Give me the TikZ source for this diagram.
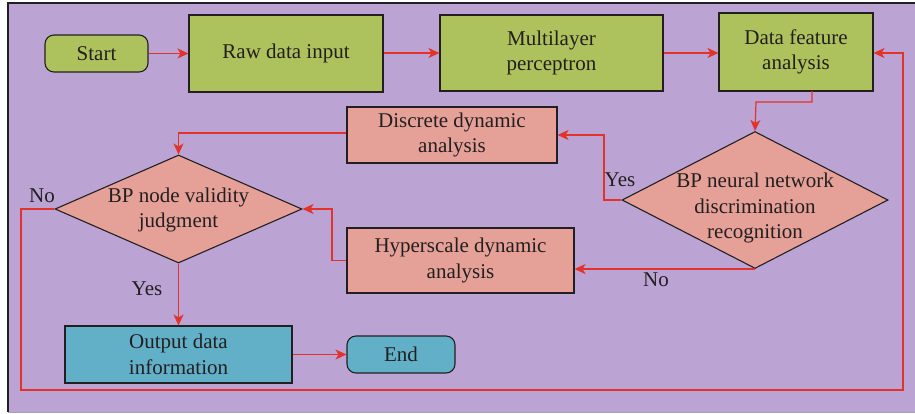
\documentclass[tikz,border=0pt]{standalone}
\usepackage{fontspec}
\setmainfont{Liberation Serif}
\usetikzlibrary{shapes.geometric,arrows.meta}
\definecolor{bgpurple}{HTML}{BBA4D3}
\definecolor{boxgreen}{HTML}{ADC25C}
\definecolor{boxpink}{HTML}{E5A198}
\definecolor{boxblue}{HTML}{62B0C8}
\definecolor{flowred}{HTML}{E2322A}
\definecolor{inkdark}{HTML}{231F20}
\newcommand{\chartfont}{\fontsize{21}{25.5}\selectfont}
\tikzset{
  base/.style={draw=inkdark, line width=1.1pt, text=inkdark, align=center,
    inner sep=0pt, font=\chartfont},
  greenbox/.style={base, rectangle, fill=boxgreen},
  pinkbox/.style={base, rectangle, fill=boxpink},
  bluebox/.style={base, rectangle, fill=boxblue},
  term/.style={base, rectangle, rounded corners=9pt},
  dia/.style={draw=inkdark, line width=1.1pt, fill=boxpink, diamond,
    inner sep=0pt, shape aspect=2},
  diatext/.style={text=inkdark, align=center, inner sep=0pt, font=\chartfont},
  flow/.style={draw=flowred, line width=1.2pt,
    -{Stealth[length=11pt,width=10pt,inset=3pt]}},
  lbl/.style={text=inkdark, inner sep=0pt, font=\chartfont}
}
\begin{document}
\begin{tikzpicture}[x=1pt,y=-1pt]
\useasboundingbox (0,0) rectangle (915,413);
% frame
\fill[bgpurple] (8,3) rectangle (915,412);
\draw[inkdark, line width=1.2pt] (8,412) -- (8,3) -- (915,3);
\draw[black!35, line width=1pt] (8,412) -- (915,412);

% top row
\node[term, fill=boxgreen, minimum width=103pt, minimum height=37pt] (start) at (96.5,53.5) {Start};
\node[greenbox, minimum width=194pt, minimum height=77pt] (raw) at (286,53.5) {Raw data input};
\node[greenbox, minimum width=223pt, minimum height=76pt] (mlp) at (551.5,53) {Multilayer\\perceptron};
\node[greenbox, minimum width=154pt, minimum height=78pt] (dfa) at (796,52) {Data feature\\analysis};

% decision on the right
\node[dia, minimum width=266pt, minimum height=137pt] (bpn) at (755,200) {};
\node[diatext] (bpntext) at (755,208) {BP neural network\\discrimination\\recognition};

% analysis boxes
\node[pinkbox, minimum width=210pt, minimum height=56pt] (disc) at (452,135) {Discrete dynamic\\analysis};
\node[pinkbox, minimum width=227pt, minimum height=65pt] (hyper) at (460.5,260.5) {Hyperscale dynamic\\analysis};

% validity decision
\node[dia, minimum width=247pt, minimum height=108pt] (val) at (178.5,209) {};
\node[diatext] (valtext) at (178.5,210) {BP node validity\\judgment};

% bottom row
\node[bluebox, minimum width=227pt, minimum height=57pt] (out) at (178.5,354.5) {Output data\\information};
\node[term, fill=boxblue, minimum width=108pt, minimum height=37pt] (end) at (401,354.5) {End};

% connectors
\coordinate (loopa) at (21,209);
\coordinate (loopb) at (21,390);
\coordinate (loopc) at (903,390);
\coordinate (loopd) at (903,53);

\draw[flow] (start) -- (raw);
\draw[flow] (raw.east |- 0,53) -- (mlp.west |- 0,53);
\draw[flow] (mlp.east |- 0,53) -- (dfa.west |- 0,53);
\draw[flow] (812,91) |- (756,102) -- (bpn.north);
\draw[flow] (bpn.west) -| (604,135) -- (disc.east);
\draw[flow] (disc.west |- 0,133) -| (val.north);
\draw[flow] (bpn.south) -- (hyper.east |- bpn.south);
\draw[flow] (hyper.west) -| (332,209) -- (val.east);
\draw[flow] (val.south) -- (out.north);
\draw[flow] (out) -- (end);
\draw[flow] (val.west) -- (loopa) -- (loopb) -- (loopc) -- (loopd) -- (dfa.east |- loopd);

% branch labels
\node[lbl] (yes1) at (620,180) {Yes};
\node[lbl] (no1) at (656,280) {No};
\node[lbl] (yes2) at (147,289) {Yes};
\node[lbl] (no2) at (42,196) {No};
\end{tikzpicture}
\end{document}
